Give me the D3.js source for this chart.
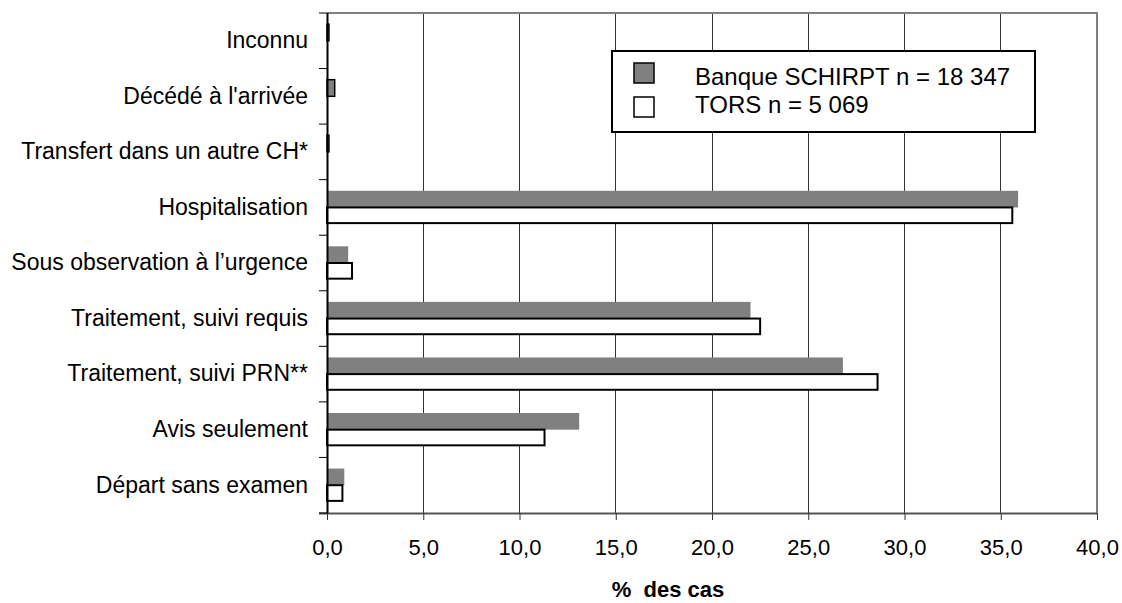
<!DOCTYPE html>
<html lang="fr">
<head>
  <meta charset="UTF-8">
  <title>Orientation des cas</title>
  <script src="https://d3js.org/d3.v7.min.js"></script>
  <style>
    html, body { margin: 0; padding: 0; background: #fff; }
    svg { display: block; font-family: Arial, "Liberation Sans", sans-serif; }
    .grid line { stroke: #333; stroke-width: 1px; shape-rendering: crispEdges; }
  </style>
</head>
<body>
  <div id="container"></div>
  <script>
    // data (top to bottom)
    const categories = ['Inconnu', "Décédé à l'arrivée", 'Transfert dans un autre CH*', 'Hospitalisation',
      'Sous observation à l\u2019urgence', 'Traitement, suivi requis', 'Traitement, suivi PRN**',
      'Avis seulement', 'Départ sans examen']
    const schirpt = [0.1, 0.4, 0.1, 35.9, 1.1, 22.0, 26.8, 13.1, 0.9]
    const tors = [0, 0, 0, 35.6, 1.3, 22.5, 28.6, 11.3, 0.8]
    const seriesNames = ['Banque SCHIRPT n = 18 347', 'TORS n = 5 069']
    const xTicks = [0, 5, 10, 15, 20, 25, 30, 35, 40]

    const width = 1122, height = 603
    const margin = {top: 13, left: 327, right: 25, bottom: 90}
    const innerW = width - margin.left - margin.right
    const innerH = height - margin.top - margin.bottom

    const svg = d3.select('#container').append('svg')
      .attr('width', width).attr('height', height)
    const g = svg.append('g').attr('transform', `translate(${margin.left},${margin.top})`)

    // scales
    const x = d3.scaleLinear().domain([0, 40]).range([0, innerW])
    const y = d3.scaleBand().domain(categories).range([0, innerH]).paddingInner(0.4).paddingOuter(0.2)
    const ySub = d3.scaleBand().domain([0, 1]).range([0, y.bandwidth()])

    // vertical gridlines
    g.append('g').attr('class', 'grid')
      .selectAll('line').data(xTicks.slice(1, -1)).enter().append('line')
      .attr('x1', d => x(d)).attr('x2', d => x(d))
      .attr('y1', 0).attr('y2', innerH)

    // top and right frame (grey)
    g.append('path')
      .attr('d', `M0,0H${x(40)}V${innerH}`)
      .attr('fill', 'none').attr('stroke', '#808080').attr('stroke-width', 2)

    // bars
    const rows = categories.map((c, i) => ({cat: c, vals: [schirpt[i], tors[i]]}))
    const groups = g.selectAll('.row').data(rows).enter().append('g')
      .attr('class', 'row')
      .attr('transform', d => `translate(0,${y(d.cat)})`)

    groups.append('rect')
      .attr('x', 0)
      .attr('y', ySub(0))
      .attr('width', d => x(d.vals[0]))
      .attr('height', ySub.bandwidth())
      .attr('fill', '#808080')
      .attr('stroke', d => d.vals[0] < 0.5 ? '#000' : 'none')
      .attr('stroke-width', 1.5)

    groups.filter(d => d.vals[1] > 0).append('rect')
      .attr('x', 0)
      .attr('y', ySub(1))
      .attr('width', d => x(d.vals[1]))
      .attr('height', ySub.bandwidth() - 1)
      .attr('fill', '#fff')
      .attr('stroke', '#000')
      .attr('stroke-width', 2)

    // x axis
    const xAxis = d3.axisBottom(x).tickValues(xTicks).tickSize(7).tickPadding(19)
      .tickFormat(d => d3.format('.1f')(d).replace('.', ','))
    const gx = g.append('g').attr('transform', `translate(0,${innerH})`).call(xAxis)
    gx.select('.domain').attr('d', `M-8,0.5H${innerW}`).attr('stroke', '#555').attr('stroke-width', 2)
    gx.selectAll('.tick line').attr('stroke', '#333')
    gx.selectAll('.tick text').attr('font-size', 22).attr('fill', '#000')
      .attr('font-family', 'Arial, "Liberation Sans", sans-serif')

    // y axis: labels at band centres, tick marks on band boundaries
    const yAxis = d3.axisLeft(y).tickSize(0).tickPadding(19)
    const gy = g.append('g').call(yAxis)
    gy.select('.domain').attr('d', `M0.5,0V${innerH}`).attr('stroke', '#000').attr('stroke-width', 2)
    gy.selectAll('.tick text').attr('font-size', 23).attr('fill', '#000')
      .attr('font-family', 'Arial, "Liberation Sans", sans-serif')
    gy.selectAll('.bound').data(d3.range(categories.length + 1)).enter().append('line')
      .attr('class', 'bound')
      .attr('x1', -8).attr('x2', 0)
      .attr('y1', i => i * y.step())
      .attr('y2', i => i * y.step())
      .attr('stroke', '#000').attr('stroke-width', 1)

    // axis title
    svg.append('text')
      .attr('x', 668).attr('y', 597)
      .attr('text-anchor', 'middle')
      .attr('font-size', 22).attr('font-weight', 'bold')
      .attr('xml:space', 'preserve')
      .style('white-space', 'pre')
      .text('%  des cas')

    // legend
    const legend = svg.append('g').attr('transform', 'translate(612,51)')
    legend.append('rect')
      .attr('width', 423).attr('height', 81)
      .attr('fill', '#fff').attr('stroke', '#000').attr('stroke-width', 2)
    const items = legend.selectAll('.item').data(seriesNames).enter().append('g')
      .attr('transform', (d, i) => `translate(22,${12 + i * 34})`)
    items.append('rect')
      .attr('width', 20).attr('height', 20)
      .attr('fill', (d, i) => i === 0 ? '#808080' : '#fff')
      .attr('stroke', '#000').attr('stroke-width', 1.5)
    items.append('text')
      .attr('x', 61).attr('y', (d, i) => i === 0 ? 22 : 16)
      .attr('font-size', 24)
      .text(d => d)
  </script>
</body>
</html>
